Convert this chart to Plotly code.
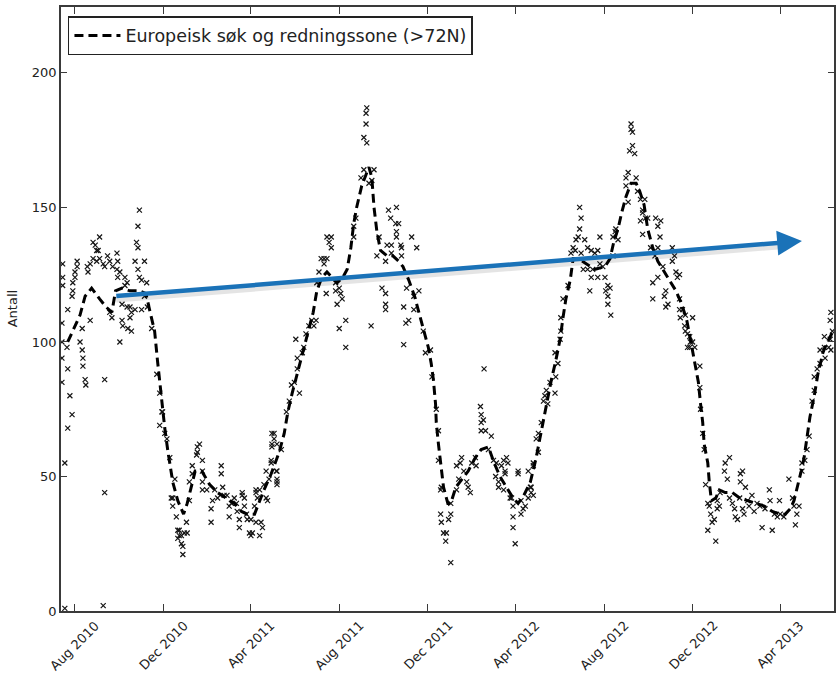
import pandas as pd
import plotly.graph_objects as go

BASE = pd.Timestamp("2010-08-01")

# ---- smoothed (rolling mean) series: days since 2010-08-01, value ----
line_days = [-10, -3, 7, 14, 23, 34, 43, 51, 56, 65,
             76, 89, 98, 103, 110, 114, 117, 120, 124, 128,
             135, 142, 150, 155, 161, 166, 175, 186, 197, 209,
             220, 230, 238, 248, 255, 261, 271, 282, 289, 294,
             300, 307, 314, 323, 329, 334, 341, 348, 355, 362,
             370, 376, 381, 385, 389, 396, 406, 410, 413, 417,
             422, 431, 439, 447, 453, 461, 469, 476, 483, 488,
             492, 495, 498, 499, 502, 505, 509, 515, 519, 526,
             535, 543, 553, 561, 571, 579, 587, 596, 605, 612,
             620, 629, 637, 642, 647, 653, 658, 664, 670, 674,
             678, 684, 688, 695, 706, 718, 732, 739, 744, 750,
             755, 761, 768, 775, 780, 786, 791, 798, 805, 812,
             821, 830, 838, 845, 850, 856, 861, 864, 867, 869,
             874, 876, 879, 885, 890, 898, 908, 918, 929, 940,
             952, 963, 973, 981, 988, 993, 999, 1003, 1007, 1011,
             1015, 1021, 1026, 1033, 1039, 1047]
line_vals = [100, 104, 110, 117, 120, 116, 113, 111, 119, 120,
             119, 119, 118, 112, 104, 93, 85, 77, 68, 60,
             48, 41, 36, 40, 46, 52, 52, 47, 44, 42,
             40, 37, 36, 36, 41, 45, 51, 59, 66, 74,
             81, 88, 96, 104, 111, 119, 124, 126, 124, 122,
             124, 127, 135, 144, 150, 158, 165, 161, 150, 141,
             134, 132, 132, 130, 128, 123, 117, 110, 104, 98,
             92, 86, 77, 70, 62, 55, 46, 40, 40, 46,
             49, 52, 57, 60, 61, 55, 50, 46, 42, 40,
             43, 48, 57, 64, 71, 78, 86, 93, 101, 109,
             116, 123, 131, 131, 129, 127, 128, 131, 137, 142,
             148, 154, 159, 159, 156, 151, 142, 135, 130, 127,
             123, 119, 114, 108, 101, 93, 85, 77, 70, 62,
             55, 48, 41, 42, 45, 44, 44, 42, 41, 40,
             39, 37, 36, 36, 38, 41, 47, 52, 57, 64,
             72, 80, 88, 96, 100, 104]
assert len(line_days) == len(line_vals)

# ---- daily counts (x markers): (days since 2010-08-01, count) ----
season_2010 = [(-17, 129), (-17, 124), (-17, 121), (-18, 107), (-18, 100), (-18, 94), (-18, 85), (-14, 55),
               (-10, 68), (-4, 73), (-7, 80), (-10, 90), (-11, 98), (-10, 112), (-4, 117), (-3, 119), (-3, 122),
               (0, 124), (0, 126), (3, 128), (3, 130), (-14, 1), (39, 2), (41, 44), (41, 86), (10, 105), (10, 97),
               (11, 94), (11, 91), (14, 86), (15, 84), (7, 100), (17, 128), (18, 126), (21, 129), (25, 137),
               (28, 136), (30, 134), (32, 134), (34, 139), (25, 131), (30, 130), (34, 131), (39, 129), (41, 128),
               (45, 132), (48, 130), (52, 128), (58, 133), (59, 130), (58, 127), (62, 126), (59, 124), (69, 124),
               (72, 122), (69, 121), (83, 130), (87, 135), (85, 137), (87, 143), (89, 149), (96, 130), (87, 127),
               (92, 123), (99, 122), (89, 124), (96, 117), (92, 112), (21, 108), (48, 111), (51, 109), (65, 114),
               (65, 108), (66, 106), (73, 105), (78, 104), (62, 100), (72, 113), (76, 113), (78, 111), (83, 112),
               (76, 109), (100, 113), (106, 105), (113, 88), (117, 81), (120, 74), (117, 69), (127, 64), (131, 57),
               (138, 49), (135, 42), (140, 35), (144, 30), (147, 28), (149, 24), (149, 21), (154, 33), (155, 29),
               (142, 27), (147, 25)]
winter_2010 = [(121, 74), (124, 66), (133, 42), (135, 39), (142, 30), (144, 28), (151, 29), (158, 41), (158, 48),
               (162, 54), (168, 58), (169, 61), (172, 62), (169, 59), (176, 56), (176, 52), (162, 51), (176, 48),
               (176, 45), (182, 45), (188, 38), (188, 33), (190, 41), (193, 45), (197, 42), (202, 54), (202, 51),
               (204, 46), (206, 43), (210, 43), (213, 39), (213, 35), (216, 40), (220, 42), (223, 40), (224, 37),
               (227, 34), (227, 31), (231, 43), (234, 42), (237, 36), (238, 34), (241, 29), (243, 28), (245, 29),
               (250, 33), (255, 28), (252, 42), (250, 44), (255, 45), (259, 31), (261, 47), (264, 42), (266, 41),
               (268, 49), (264, 52), (271, 55), (272, 62), (275, 66), (278, 52), (279, 49), (279, 47), (275, 64)]
season_2011 = [(231, 44), (234, 39), (243, 34), (250, 45), (248, 39), (257, 33), (279, 52), (279, 48), (272, 66),
               (272, 61), (271, 56), (279, 62), (285, 60), (292, 74), (296, 78), (299, 84), (303, 85), (310, 81),
               (307, 90), (307, 94), (314, 96), (316, 98), (305, 101), (319, 103), (323, 106), (327, 108),
               (330, 106), (333, 108), (334, 122), (337, 126), (340, 131), (344, 131), (348, 131), (344, 129),
               (348, 139), (354, 139), (351, 137), (354, 135), (347, 118), (360, 122), (365, 120), (360, 119),
               (367, 118), (362, 114), (369, 116), (365, 105), (374, 108), (374, 98), (385, 139), (385, 143),
               (388, 146), (395, 161), (399, 164), (406, 159), (410, 160), (403, 187), (402, 185), (402, 181),
               (399, 176), (403, 174), (413, 164), (409, 106), (420, 139), (417, 132), (429, 130), (431, 136),
               (433, 149), (436, 146), (444, 150), (447, 144), (443, 144), (437, 133), (437, 136), (444, 139),
               (450, 136), (451, 132), (424, 120), (429, 118), (429, 114), (429, 112), (454, 113), (457, 107),
               (454, 99)]
winter_2011 = [(444, 141), (465, 139), (472, 135), (451, 135), (458, 120), (468, 117), (475, 119), (468, 112),
               (461, 108), (481, 104), (484, 96), (491, 97), (493, 87), (499, 75), (502, 67), (502, 56), (505, 45),
               (506, 46), (505, 36), (506, 33), (509, 29), (512, 26), (513, 29), (516, 34), (519, 36), (519, 40),
               (519, 18), (527, 45), (530, 49), (527, 54), (532, 55), (534, 57), (537, 52), (541, 48), (546, 44),
               (543, 46), (548, 55), (553, 57), (554, 54), (560, 76), (561, 73), (564, 71), (561, 70), (561, 67),
               (567, 67), (565, 90), (575, 65), (571, 60), (578, 56), (582, 55), (581, 50), (585, 48), (592, 56),
               (596, 57), (594, 52), (598, 55), (585, 46), (592, 45), (601, 42), (605, 39), (605, 35), (605, 31),
               (608, 25), (612, 52), (612, 51), (622, 39), (616, 36), (626, 42), (630, 46), (633, 43), (626, 52),
               (633, 55), (637, 64)]
season_2012 = [(589, 54), (594, 51), (603, 42), (616, 41), (619, 38), (629, 46), (630, 44), (633, 54), (640, 66),
               (640, 59), (644, 70), (647, 78), (649, 80), (651, 82), (653, 77), (656, 85), (663, 81), (664, 87),
               (663, 96), (667, 92), (671, 104), (670, 101), (671, 109), (674, 116), (681, 121), (685, 133),
               (688, 135), (691, 134), (692, 138), (697, 142), (699, 146), (697, 150), (695, 139), (699, 133),
               (704, 138), (708, 135), (713, 134), (702, 127), (708, 127), (713, 124), (711, 119), (715, 127),
               (718, 133), (722, 134), (725, 139), (725, 129), (722, 124), (729, 128), (732, 124), (736, 121),
               (733, 119), (739, 120), (736, 117), (736, 114), (740, 110), (743, 132), (746, 141), (747, 142),
               (750, 138), (743, 139), (761, 161), (764, 163), (761, 158), (764, 152), (766, 171), (770, 173),
               (773, 170), (768, 179), (768, 181), (770, 178), (775, 161), (777, 156), (781, 153), (784, 149),
               (787, 153), (788, 146), (784, 148), (781, 145), (784, 140), (791, 146), (802, 146), (805, 143),
               (809, 145), (808, 139), (805, 135), (795, 135), (801, 132), (798, 122), (798, 116), (805, 124),
               (812, 128), (816, 119), (814, 117), (819, 114), (816, 113), (825, 135), (828, 132), (825, 130),
               (830, 126), (832, 124), (835, 116), (835, 112), (836, 109), (842, 106), (843, 104), (849, 102),
               (850, 100), (846, 98)]
winter_2012 = [(835, 125), (839, 112), (843, 110), (853, 109), (846, 103), (853, 100), (849, 98), (856, 98),
               (863, 91), (863, 83), (864, 75), (867, 66), (869, 60), (871, 47), (874, 40), (876, 39), (878, 36),
               (880, 33), (883, 34), (874, 30), (885, 26), (887, 38), (890, 39), (887, 41), (891, 44), (897, 52),
               (898, 55), (901, 49), (904, 57), (904, 42), (908, 40), (911, 38), (912, 35), (915, 34), (918, 42),
               (919, 48), (919, 51), (922, 52), (922, 38), (924, 36), (926, 46), (929, 41), (931, 39), (935, 43),
               (938, 37), (942, 40), (946, 39), (949, 31), (953, 38), (959, 45), (960, 41), (963, 30), (966, 36),
               (970, 35), (973, 41), (974, 36), (979, 35), (986, 49), (991, 42), (993, 39), (995, 32), (997, 36),
               (1000, 39), (1004, 52), (1008, 56), (1004, 55), (1011, 60), (1014, 65), (1018, 78), (1021, 82),
               (1021, 87), (1025, 90), (1029, 92), (1029, 97), (1035, 98), (1035, 102), (1036, 94), (1041, 98),
               (1043, 101), (1046, 104), (1043, 108), (1044, 111), (1044, 97)]

tick_dates = ["2010-08-01", "2010-12-01", "2011-04-01", "2011-08-01", "2011-12-01",
              "2012-04-01", "2012-08-01", "2012-12-01", "2013-04-01"]
y_ticks = [0, 50, 100, 150, 200]

legend_label = "Europeisk søk og redningssone (>72N)"
y_title = "Antall"

# trend arrow (start, end)
arrow_start = ("2010-09-25", 117)
arrow_end = ("2013-05-01", 137.5)

x_range = ["2010-07-12 17:00", "2013-06-14 07:00"]
y_range = [0, 224.5]

# ---------------------------------------------------------------
def to_dates(days):
    return [BASE + pd.Timedelta(days=d) for d in days]

pts = season_2010 + winter_2010 + season_2011 + winter_2011 + season_2012 + winter_2012
sc_days = [p[0] for p in pts]
sc_vals = [p[1] for p in pts]

FONT = "DejaVu Sans"
AX = "#3a3a3a"

fig = go.Figure()
fig.add_trace(go.Scatter(
    x=to_dates(sc_days), y=sc_vals, mode="markers",
    marker=dict(symbol="x-thin", size=5, line=dict(width=1.2, color="#151515")),
    showlegend=False, hoverinfo="skip"))
fig.add_trace(go.Scatter(
    x=to_dates(line_days), y=line_vals, mode="lines",
    line=dict(color="black", width=3, dash="9px,5px"),
    name=legend_label))

annotations = []
for td in tick_dates:
    annotations.append(dict(
        x=td, xref="x", y=0, yref="paper", yshift=-4,
        text=pd.Timestamp(td).strftime("%b %Y"), textangle=-45,
        showarrow=False, xanchor="center", yanchor="top",
        font=dict(family=FONT, size=13, color="#222")))

annotations.append(dict(
    x=-0.063, xref="paper", y=0.5, yref="paper", text=y_title, textangle=-90,
    showarrow=False, xanchor="center", yanchor="middle",
    font=dict(family=FONT, size=13, color="#222")))

# shadow of the arrow
annotations.append(dict(
    x=arrow_end[0], y=arrow_end[1], xref="x", yref="y",
    ax=arrow_start[0], ay=arrow_start[1], axref="x", ayref="y",
    text="", showarrow=True, arrowhead=0, arrowwidth=5,
    arrowcolor="rgba(0,0,0,0.10)", yshift=-4, standoff=14))
annotations.append(dict(
    x=arrow_end[0], y=arrow_end[1], xref="x", yref="y",
    ax=arrow_start[0], ay=arrow_start[1], axref="x", ayref="y",
    text="", showarrow=True, arrowhead=2, arrowsize=1.1, arrowwidth=4.5,
    arrowcolor="#1a72b8"))

fig.update_layout(
    width=836, height=673,
    margin=dict(l=61, r=0, t=7, b=62),
    paper_bgcolor="white", plot_bgcolor="white",
    font=dict(family=FONT, size=13, color="#222"),
    showlegend=True,
    legend=dict(x=0.009, y=0.985, xanchor="left", yanchor="top",
                bgcolor="white", bordercolor="#222", borderwidth=1.5,
                font=dict(family=FONT, size=17.5, color="#222"),
                itemwidth=46),
    annotations=annotations,
    xaxis=dict(type="date", range=x_range, tickvals=tick_dates, showticklabels=False,
               ticks="inside", ticklen=7, tickwidth=1, tickcolor=AX,
               showline=True, linecolor=AX, linewidth=1.6, mirror="ticks",
               showgrid=False, zeroline=False),
    yaxis=dict(range=y_range, tickvals=y_ticks, ticks="inside", ticklen=6, tickwidth=1,
               tickcolor=AX, showline=True, linecolor=AX, linewidth=1.6, mirror="ticks",
               showgrid=False, zeroline=False, tickfont=dict(family=FONT, size=13, color="#222")),
)

fig.write_html("out.html", config={"displayModeBar": False},
               post_script="document.body.style.margin='0';document.body.style.overflow='hidden';")
